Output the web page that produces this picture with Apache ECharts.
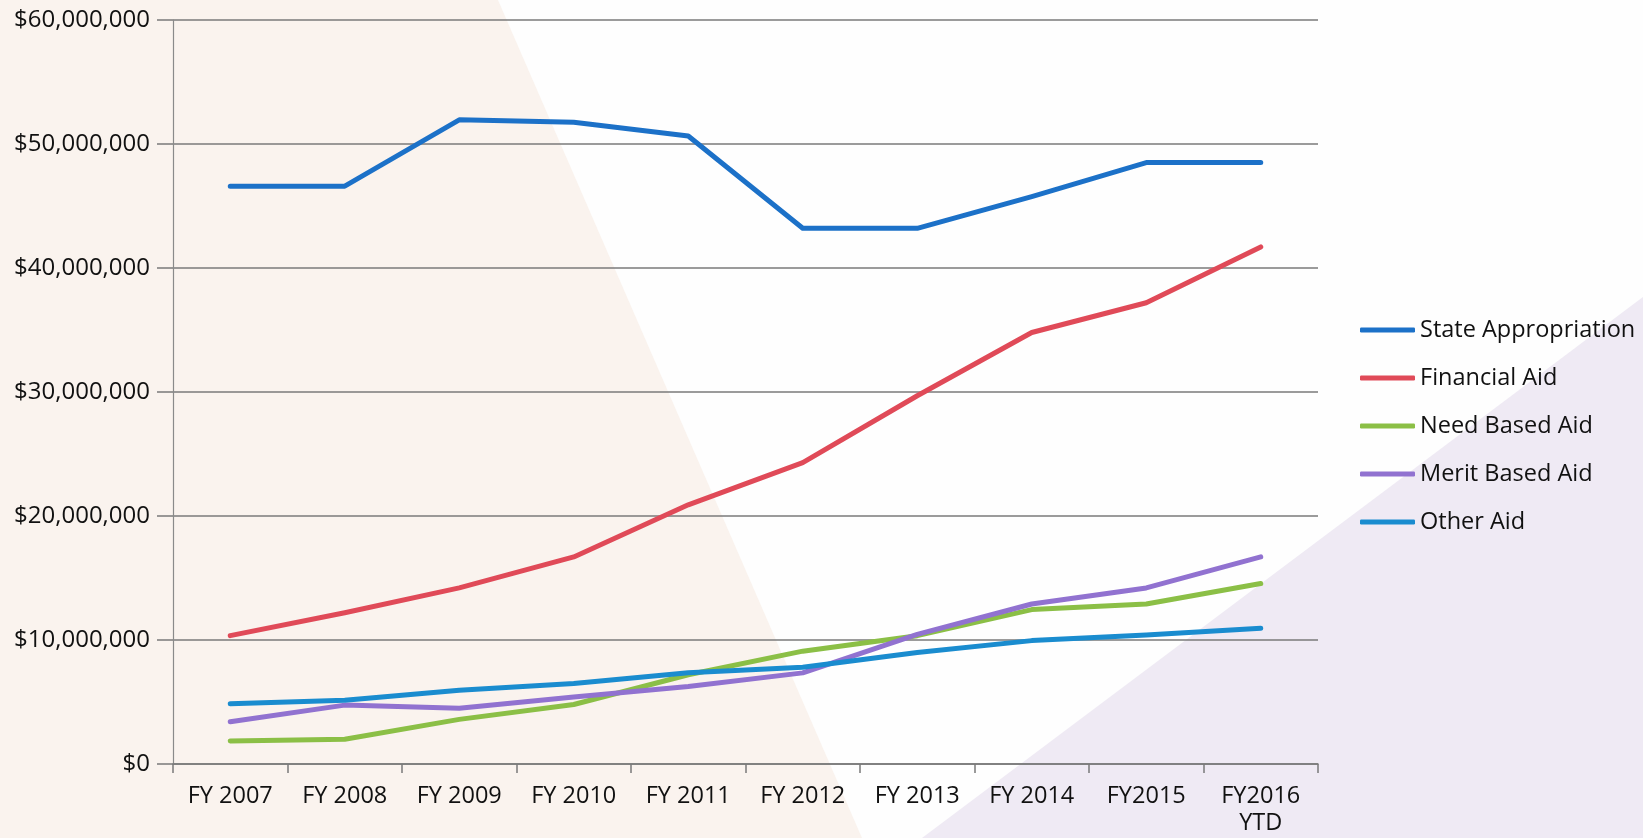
<!DOCTYPE html>
<html>
<head>
<meta charset="utf-8">
<title>State Appropriation and Aid</title>
<script src="https://cdn.jsdelivr.net/npm/echarts@6/dist/echarts.min.js"></script>
<style>
  html, body { margin: 0; padding: 0; background: #fefefe; }
  #chart { width: 1643px; height: 838px; }
</style>
</head>
<body>
<div id="chart"></div>
<script>
// Fiscal years on the category axis
const categories = ['FY 2007', 'FY 2008', 'FY 2009', 'FY 2010', 'FY 2011', 'FY 2012', 'FY 2013', 'FY 2014', 'FY2015', 'FY2016\nYTD'];

// Dollar amounts per fiscal year
const stateAppropriation = [46600000, 46600000, 51950000, 51750000, 50650000, 43200000, 43200000, 45750000, 48500000, 48500000];
const financialAid       = [10350000, 12200000, 14200000, 16700000, 20900000, 24300000, 29700000, 34800000, 37200000, 41700000];
const needBasedAid       = [1850000, 2000000, 3600000, 4800000, 7200000, 9100000, 10350000, 12450000, 12900000, 14550000];
const meritBasedAid      = [3400000, 4750000, 4500000, 5400000, 6250000, 7350000, 10450000, 12900000, 14200000, 16700000];
const otherAid           = [4850000, 5150000, 5950000, 6500000, 7350000, 7800000, 9000000, 9950000, 10400000, 10950000];

// Value axis ticks
const yMin = 0, yMax = 60000000, yStep = 10000000;

const seriesDefs = [
  { name: 'State Appropriation', data: stateAppropriation, color: '#1c71c8' },
  { name: 'Financial Aid',       data: financialAid,       color: '#e04a58' },
  { name: 'Need Based Aid',      data: needBasedAid,       color: '#8bbf46' },
  { name: 'Merit Based Aid',     data: meritBasedAid,      color: '#9172d0' },
  { name: 'Other Aid',           data: otherAid,           color: '#1a8ccf' }
];

const fontFamily = '"Open Sans", "DejaVu Sans", sans-serif';
const textColor = '#111111';
const chart = echarts.init(document.getElementById('chart'));

const money = v => '$' + Math.round(v).toLocaleString('en-US');

chart.setOption({
  backgroundColor: '#fefefe',
  animation: false,
  graphic: [
    {
      type: 'polygon', z: -10, silent: true,
      shape: { points: [[0, 0], [498, 0], [862, 838], [0, 838]] },
      style: { fill: '#faf3ee' }
    },
    {
      type: 'polygon', z: -10, silent: true,
      shape: { points: [[922, 838], [1643, 297], [1643, 838]] },
      style: { fill: '#efeaf4' }
    }
  ],
  grid: { left: 173, right: 325, top: 20, bottom: 74, containLabel: false },
  legend: {
    orient: 'vertical',
    left: 1355,
    top: 313,
    itemWidth: 55,
    itemHeight: 5,
    itemGap: 24,
    icon: 'roundRect',
    textStyle: { fontFamily, fontSize: 23.5, color: textColor, lineHeight: 24 },
    data: seriesDefs.map(s => s.name)
  },
  xAxis: {
    type: 'category',
    data: categories,
    boundaryGap: true,
    axisLine: { lineStyle: { color: '#7a7a7a', width: 1.5 } },
    axisTick: { show: true, length: 9, alignWithLabel: false, lineStyle: { color: '#7a7a7a', width: 1.5 } },
    axisLabel: { fontFamily, fontSize: 23.5, color: textColor, margin: 19, lineHeight: 27, interval: 0 },
    splitLine: { show: false }
  },
  yAxis: {
    type: 'value',
    min: yMin,
    max: yMax,
    interval: yStep,
    axisLine: { show: true, lineStyle: { color: '#8a8a8a', width: 1.2 } },
    axisTick: { show: true, length: 16, lineStyle: { color: '#7a7a7a', width: 1.5 } },
    axisLabel: { fontFamily, fontSize: 24, color: textColor, margin: 23, formatter: money },
    splitLine: { show: true, lineStyle: { color: '#7a7a7a', width: 1.5 } }
  },
  series: seriesDefs.map(s => ({
    name: s.name,
    type: 'line',
    data: s.data,
    symbol: 'none',
    smooth: false,
    color: s.color,
    lineStyle: { color: s.color, width: 5, cap: 'round', join: 'round' }
  }))
});
</script>
</body>
</html>
